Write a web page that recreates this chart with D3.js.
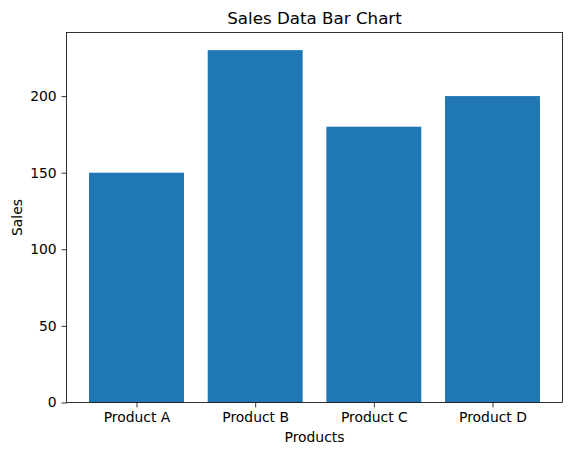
<!DOCTYPE html>
<html>
<head>
<meta charset="utf-8">
<script src="https://cdn.jsdelivr.net/npm/d3@7"></script>
<style>
	body{margin:0;background:#fff}
	svg{display:block;font-family:'DejaVu Sans',sans-serif}
</style>
</head>
<body>
<svg id="chart"></svg>
<script>
const products = ['Product A','Product B','Product C','Product D']
const sales = [150,230,180,200]
const yTicks = [0,50,100,150,200]

const wdth = 571
const hght = 455
const mrgn = {top:32.5,right:8.5,bottom:52.5,left:66.5}
const iw = wdth - mrgn.left - mrgn.right
const ih = hght - mrgn.top - mrgn.bottom

const svg = d3.select('#chart')
	.attr('width',wdth)
	.attr('height',hght)

// matplotlib style: bars 0.8 wide, 5% margins
const x = d3.scaleLinear()
	.domain([-0.59, products.length - 1 + 0.59])
	.range([0,iw])

const y = d3.scaleLinear()
	.domain([0, d3.max(sales) * 1.05])
	.range([ih,0])

const g = svg.append('g')
	.attr('transform',`translate(${mrgn.left},${mrgn.top})`)

g.selectAll('.bar')
	.data(sales)
	.enter()
	.append('rect')
	.classed('bar',true)
	.attr('x',(d,i) => x(i - 0.4))
	.attr('width',(d,i) => x(i + 0.4) - x(i - 0.4))
	.attr('y',d => y(d))
	.attr('height',d => y(0) - y(d))
	.attr('fill','#1f77b4')

const xAxis = g.append('g')
	.attr('transform',`translate(0,${ih})`)
	.call(d3.axisBottom(x)
		.tickValues(d3.range(products.length))
		.tickFormat(i => products[i])
		.tickSize(4.9)
		.tickPadding(4.9))

const yAxis = g.append('g')
	.call(d3.axisLeft(y)
		.tickValues(yTicks)
		.tickSize(4.9)
		.tickPadding(4.9))

for (const ax of [xAxis,yAxis]){
	ax.select('.domain').remove()
	ax.selectAll('.tick line').attr('stroke','#000').attr('stroke-width',0.8)
	ax.selectAll('.tick text')
		.attr('fill','#000')
		.style('font-size','13.9px')
		.style('font-family','DejaVu Sans')
}

// frame
g.append('rect')
	.attr('width',iw)
	.attr('height',ih)
	.attr('fill','none')
	.attr('stroke','#000')
	.attr('stroke-width',0.8)

svg.append('text')
	.attr('x',mrgn.left + iw / 2)
	.attr('y',mrgn.top - 9)
	.attr('text-anchor','middle')
	.style('font-size','16.7px')
	.text('Sales Data Bar Chart')

svg.append('text')
	.attr('x',mrgn.left + iw / 2)
	.attr('y',442)
	.attr('text-anchor','middle')
	.style('font-size','13.9px')
	.text('Products')

svg.append('text')
	.attr('transform',`translate(22,${mrgn.top + ih / 2}) rotate(-90)`)
	.attr('text-anchor','middle')
	.style('font-size','13.9px')
	.text('Sales')
</script>
</body>
</html>
